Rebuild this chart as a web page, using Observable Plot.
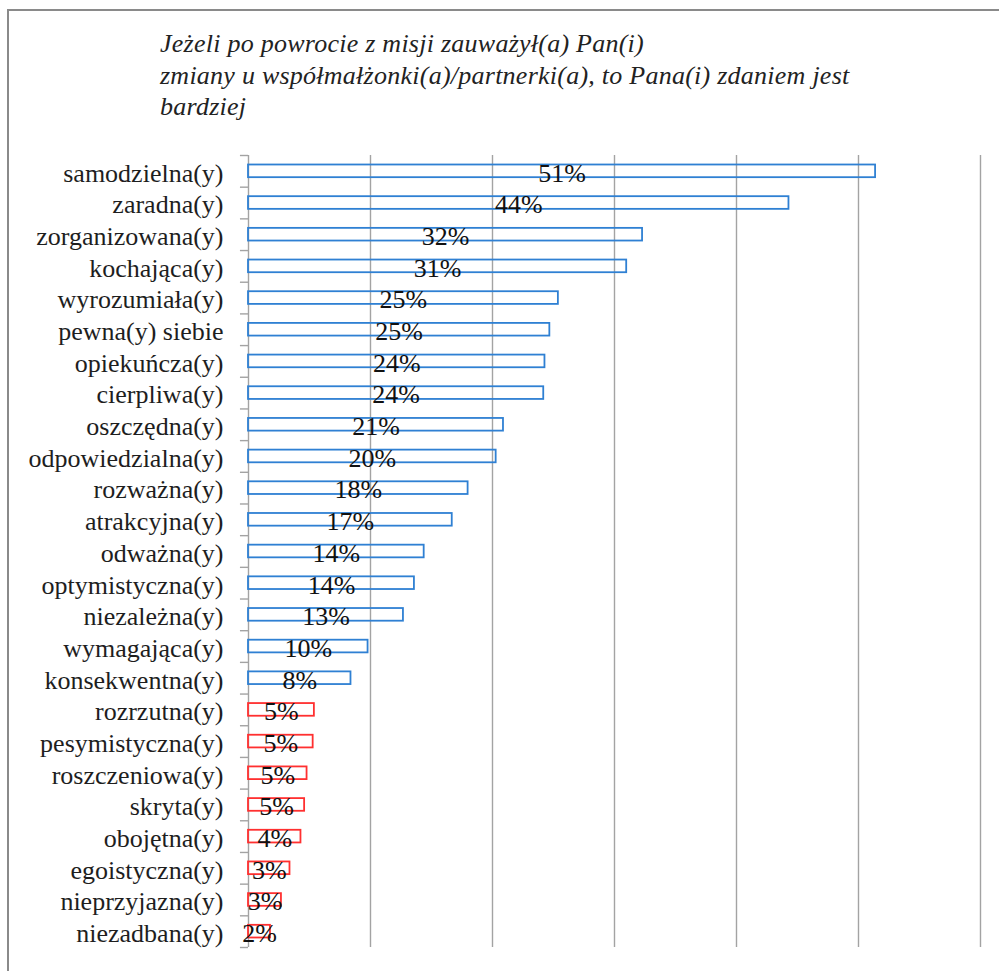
<!DOCTYPE html>
<html>
<head>
<meta charset="utf-8">
<script src="https://cdn.jsdelivr.net/npm/d3@7"></script>
<script src="https://cdn.jsdelivr.net/npm/@observablehq/plot@0.6"></script>
<style>
  html, body { margin: 0; padding: 0; background: #fff; }
  #wrap { position: relative; width: 999px; height: 971px; overflow: hidden; background: #fff; }
  #frame { position: absolute; left: 7px; top: 9px; width: 1200px; height: 1200px;
           border-top: 2.5px solid #8a8a8a; border-left: 2px solid #8a8a8a; }
  #title { position: absolute; left: 160px; top: 28px; letter-spacing: 0.25px;
           font-style: italic; font-size: 26px; line-height: 31.5px; color: #222; white-space: nowrap; }
  #chart { position: absolute; left: 0; top: 130px; line-height: 0; }
</style>
</head>
<body>
<div id="wrap">
  <div id="frame"></div>
  <div id="title">Jeżeli po powrocie z misji zauważył(a) Pan(i)<br>zmiany u współmałżonki(a)/partnerki(a), to Pana(i) zdaniem jest<br>bardziej</div>
  <div id="chart"></div>
</div>
<script>
const categories = [
  "samodzielna(y)", "zaradna(y)", "zorganizowana(y)", "kochająca(y)", "wyrozumiała(y)",
  "pewna(y) siebie", "opiekuńcza(y)", "cierpliwa(y)", "oszczędna(y)", "odpowiedzialna(y)",
  "rozważna(y)", "atrakcyjna(y)", "odważna(y)", "optymistyczna(y)", "niezależna(y)",
  "wymagająca(y)", "konsekwentna(y)", "rozrzutna(y)", "pesymistyczna(y)", "roszczeniowa(y)",
  "skryta(y)", "obojętna(y)", "egoistyczna(y)", "nieprzyjazna(y)", "niezadbana(y)"
];
const values = [
  51.4, 44.3, 32.3, 31.0, 25.4,
  24.7, 24.3, 24.2, 20.9, 20.3,
  18.0, 16.7, 14.4, 13.6, 12.7,
  9.8, 8.4, 5.4, 5.3, 4.8,
  4.6, 4.3, 3.4, 2.7, 1.8
];
const labels = [
  "51%", "44%", "32%", "31%", "25%",
  "25%", "24%", "24%", "21%", "20%",
  "18%", "17%", "14%", "14%", "13%",
  "10%", "8%", "5%", "5%", "5%",
  "5%", "4%", "3%", "3%", "2%"
];
const tones = [
  "pos", "pos", "pos", "pos", "pos", "pos", "pos", "pos", "pos", "pos",
  "pos", "pos", "pos", "pos", "pos", "pos", "pos",
  "neg", "neg", "neg", "neg", "neg", "neg", "neg", "neg"
];
const gridTicks = [10, 20, 30, 40, 50, 60];

// pick the first installed serif family
function pickFont(list) {
  const ctx = document.createElement("canvas").getContext("2d");
  const sample = "samodzielna(y) Jeżeli 51% WMmwil";
  for (const f of list) {
    let found = false;
    for (const base of ["monospace", "sans-serif"]) {
      ctx.font = "26px " + base;
      const w0 = ctx.measureText(sample).width;
      ctx.font = '26px "' + f + '", ' + base;
      const w1 = ctx.measureText(sample).width;
      if (Math.abs(w1 - w0) > 0.5) { found = true; break; }
    }
    if (found) return '"' + f + '", serif';
  }
  return "serif";
}
const font = pickFont(["Liberation Serif", "Times New Roman", "Tinos", "Times", "Nimbus Roman", "DejaVu Serif", "Noto Serif"]);
document.getElementById("title").style.fontFamily = font;

const data = categories.map((c, i) => ({cat: c, v: values[i], label: labels[i], tone: tones[i]}));
const plotTop = 25, plotBottom = 24, H = 841;
const halfStep = (H - plotTop - plotBottom) / categories.length / 2;

const chart = Plot.plot({
  width: 999,
  height: H,
  marginTop: plotTop,
  marginBottom: plotBottom,
  marginLeft: 248,
  marginRight: 19,
  style: {fontFamily: font, background: "transparent"},
  x: {domain: [0, 60], axis: null},
  y: {domain: categories, paddingInner: 0.6, paddingOuter: 0.3, round: false, label: null},
  color: {domain: ["pos", "neg"], range: ["#2f80d3", "#ff3030"]},
  marks: [
    Plot.ruleX(gridTicks, {stroke: "#a3a3a3", strokeWidth: 1.4}),
    Plot.ruleX([0], {stroke: "#a3a3a3", strokeWidth: 1.4}),
    Plot.ruleY(categories, {y: d => d, x1: -0.66, x2: 0, dy: -halfStep, stroke: "#a3a3a3", strokeWidth: 1.4}),
    Plot.ruleY(categories.slice(-1), {y: d => d, x1: -0.66, x2: 0, dy: halfStep, stroke: "#a3a3a3", strokeWidth: 1.4}),
    Plot.axisY({tickSize: 0, tickPadding: 25, fontSize: 26, fill: "#1e1e1e", dy: 2, fontFamily: font}),
    Plot.barX(data, {y: "cat", x: "v", fill: "none", stroke: "tone", strokeWidth: 1.8}),
    Plot.text(data, {y: "cat", x: d => d.v / 2, text: "label", fontSize: 26, fill: "#111", dy: 2, textAnchor: "middle", fontFamily: font})
  ]
});
document.getElementById("chart").appendChild(chart);
</script>
</body>
</html>
